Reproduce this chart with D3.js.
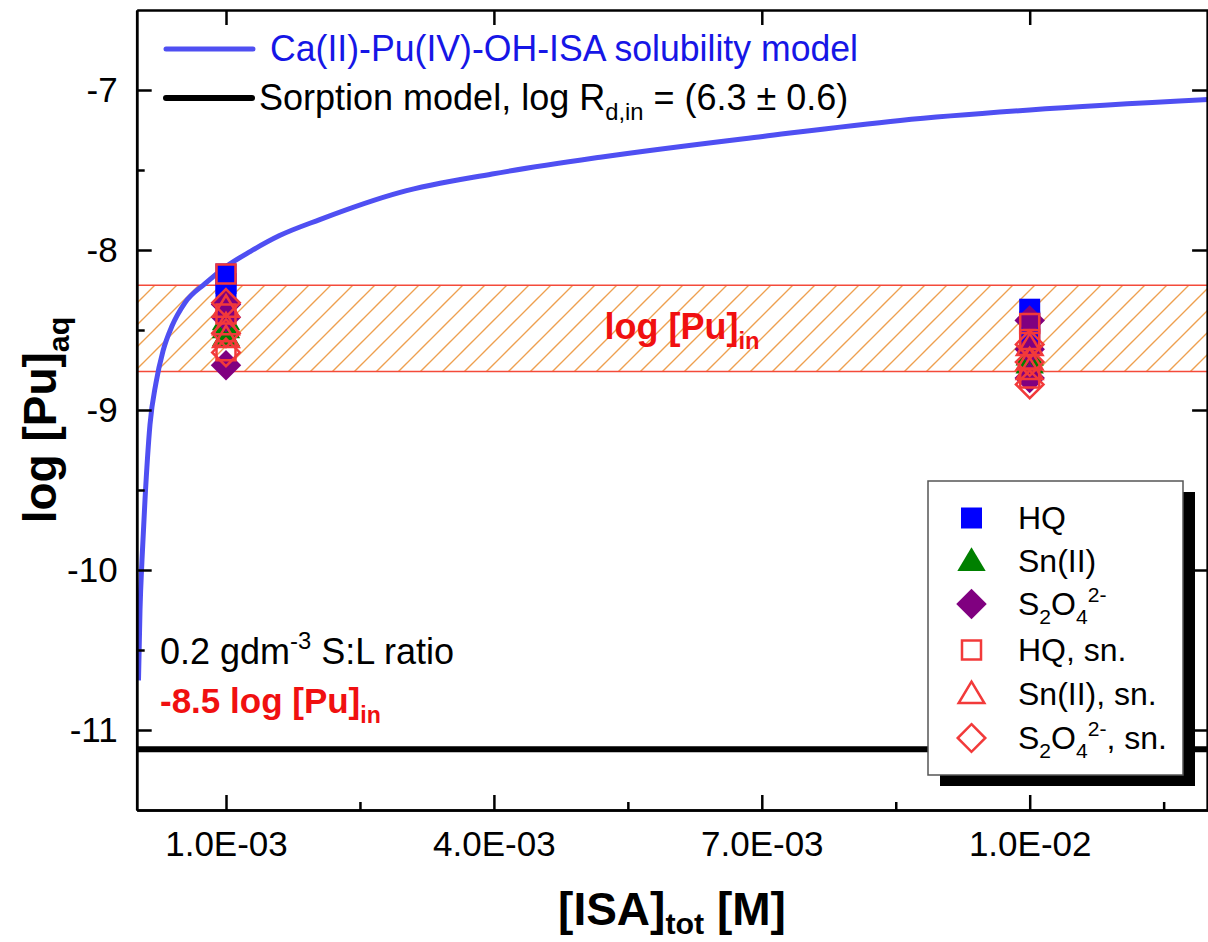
<!DOCTYPE html>
<html>
<head>
<meta charset="utf-8">
<script src="https://cdn.jsdelivr.net/npm/d3@7"></script>
<style>
  html, body { margin: 0; padding: 0; background: #fff; }
  svg { display: block; font-family: "Liberation Sans", Arial, sans-serif; }
</style>
</head>
<body>
<svg id="chart" width="1208" height="942"></svg>
<script>
// ---- data ----
const xMajorTicks = [0.001, 0.004, 0.007, 0.010];
const xTickLabels = ["1.0E-03", "4.0E-03", "7.0E-03", "1.0E-02"];
const xMinorTicks = [0.0025, 0.0055, 0.0085, 0.0115];
const yMajorTicks = [-7, -8, -9, -10, -11];
const yTickLabels = ["-7", "-8", "-9", "-10", "-11"];
const yMinorTicks = [-7.5, -8.5, -9.5, -10.5];

// Ca(II)-Pu(IV)-OH-ISA solubility model
const modelIsa = [2.0e-5, 3.7e-5, 5.9e-5, 9.3e-5, 1.49e-4, 2.16e-4, 2.95e-4, 3.95e-4, 5.4e-4,
  7.65e-4, 1.01e-3, 1.27e-3, 1.6e-3, 2.05e-3, 2.95e-3, 3.98e-3, 5.19e-3, 7.01e-3, 8.55e-3,
  1.0e-2, 1.2e-2];
const modelLogPu = [-10.69, -10.25, -9.94, -9.56, -9.09, -8.83, -8.63, -8.475, -8.33,
  -8.21, -8.10, -8.01, -7.91, -7.81, -7.64, -7.525, -7.42, -7.29, -7.19,
  -7.125, -7.06];

// sorption model and initial Pu band
const sorptionLogPu = -11.12;
const puInBand = [-8.22, -8.76];

// measured points: [ISA]tot and log [Pu]aq
const isaHQ = [0.001, 0.001, 0.001, 0.01, 0.01, 0.01];
const logHQ = [-8.15, -8.21, -8.27, -8.37, -8.45, -8.52];
const isaSn = [0.001, 0.001, 0.001, 0.01, 0.01, 0.01];
const logSn = [-8.44, -8.49, -8.54, -8.66, -8.71, -8.75];
const isaS2O4 = [0.001, 0.001, 0.001, 0.01, 0.01, 0.01];
const logS2O4 = [-8.34, -8.42, -8.72, -8.44, -8.62, -8.80];
const isaHQsn = [0.001, 0.001, 0.001, 0.01, 0.01, 0.01];
const logHQsn = [-8.15, -8.40, -8.63, -8.46, -8.56, -8.80];
const isaSnSn = [0.001, 0.001, 0.001, 0.01, 0.01, 0.01];
const logSnSn = [-8.36, -8.47, -8.55, -8.60, -8.69, -8.75];
const isaS2O4sn = [0.001, 0.001, 0.001, 0.01, 0.01, 0.01];
const logS2O4sn = [-8.33, -8.52, -8.64, -8.59, -8.70, -8.84];

// ---- layout ----
const m = { left: 136.7, right: 1208.3, top: 10, bottom: 810 };
const svg = d3.select("#chart");

const x = d3.scaleLinear().domain([0, 0.012]).range([m.left, m.right]);
const y = d3.scaleLinear().domain([-11.5, -6.5]).range([m.bottom, m.top]);

const BLUE_LINE = "#4f4ff2";
const RED = "#f23a3a";

const defs = svg.append("defs");
defs.append("clipPath").attr("id", "plotClip")
  .append("rect").attr("x", m.left).attr("y", m.top)
  .attr("width", m.right - m.left).attr("height", m.bottom - m.top);

// diagonal hatch for the initial-Pu band
const pat = defs.append("pattern")
  .attr("id", "hatch").attr("patternUnits", "userSpaceOnUse")
  .attr("width", 22).attr("height", 22);
pat.append("path")
  .attr("d", "M-2,2 L2,-2 M0,22 L22,0 M20,24 L24,20")
  .attr("stroke", "#eea050").attr("stroke-width", 1.4).attr("fill", "none");

const plot = svg.append("g").attr("clip-path", "url(#plotClip)");

// band
plot.append("rect")
  .attr("x", m.left).attr("width", m.right - m.left)
  .attr("y", y(puInBand[0])).attr("height", y(puInBand[1]) - y(puInBand[0]))
  .attr("fill", "url(#hatch)");
plot.selectAll("line.band").data(puInBand).join("line")
  .attr("class", "band")
  .attr("x1", m.left).attr("x2", m.right)
  .attr("y1", d => y(d)).attr("y2", d => y(d))
  .attr("stroke", "#f44a3a").attr("stroke-width", 1.5);

// sorption model line
plot.append("line")
  .attr("x1", m.left).attr("x2", m.right)
  .attr("y1", y(sorptionLogPu)).attr("y2", y(sorptionLogPu))
  .attr("stroke", "#000").attr("stroke-width", 6);

// solubility model curve
const model = modelIsa.map((v, i) => [v, modelLogPu[i]]);
plot.append("path")
  .datum(model)
  .attr("fill", "none").attr("stroke", BLUE_LINE).attr("stroke-width", 5)
  .attr("d", d3.line().x(d => x(d[0])).y(d => y(d[1])).curve(d3.curveMonotoneX));

// ---- markers ----
const shapes = {
  square: s => `M${-s},${-s}h${2 * s}v${2 * s}h${-2 * s}Z`,
  triangle: s => `M0,${-s * 1.3}L${s * 1.35},${s * 0.95}L${-s * 1.35},${s * 0.95}Z`,
  diamond: s => `M0,${-s * 1.45}L${s * 1.45},0L0,${s * 1.45}L${-s * 1.45},0Z`
};
const series = [
  { xs: isaHQ, ys: logHQ, shape: "square", fill: "#0000ff", stroke: "none", s: 10.5 },
  { xs: isaSn, ys: logSn, shape: "triangle", fill: "#008000", stroke: "none", s: 10.5 },
  { xs: isaS2O4, ys: logS2O4, shape: "diamond", fill: "#800080", stroke: "none", s: 10.5 },
  { xs: isaHQsn, ys: logHQsn, shape: "square", fill: "none", stroke: RED, s: 9.5 },
  { xs: isaSnSn, ys: logSnSn, shape: "triangle", fill: "none", stroke: RED, s: 9.5 },
  { xs: isaS2O4sn, ys: logS2O4sn, shape: "diamond", fill: "none", stroke: RED, s: 9.5 }
];
series.forEach(sr => {
  plot.append("g").selectAll("path")
    .data(sr.xs.map((v, i) => [v, sr.ys[i]]))
    .join("path")
    .attr("transform", d => `translate(${x(d[0])},${y(d[1])})`)
    .attr("d", shapes[sr.shape](sr.s))
    .attr("fill", sr.fill).attr("stroke", sr.stroke).attr("stroke-width", 2.5);
});

// ---- axes (ticks inward on all four sides) ----
function styleAxis(g) {
  g.select(".domain").attr("stroke", "#000").attr("stroke-width", 2.5);
  g.selectAll(".tick line").attr("stroke", "#000").attr("stroke-width", 2.5);
  g.selectAll("text").attr("fill", "#000").attr("font-size", 35)
    .attr("font-family", "'Liberation Sans', Arial, sans-serif");
}
const bottom = svg.append("g").attr("transform", `translate(0,${m.bottom})`);
bottom.call(d3.axisBottom(x).tickValues(xMinorTicks).tickSize(-8).tickSizeOuter(0).tickFormat(""));
bottom.call(styleAxis);
const bottomMaj = svg.append("g").attr("transform", `translate(0,${m.bottom})`);
bottomMaj.call(d3.axisBottom(x).tickValues(xMajorTicks).tickSize(-15).tickSizeOuter(0)
  .tickPadding(21).tickFormat((d, i) => xTickLabels[i]));
bottomMaj.call(styleAxis);

const topAx = svg.append("g").attr("transform", `translate(0,${m.top})`);
topAx.call(d3.axisTop(x).tickValues(xMinorTicks).tickSize(-8).tickSizeOuter(0).tickFormat(""));
topAx.call(d3.axisTop(x).tickValues(xMajorTicks).tickSize(-15).tickSizeOuter(0).tickFormat(""));
topAx.call(styleAxis);

const leftAx = svg.append("g").attr("transform", `translate(${m.left},0)`);
leftAx.call(d3.axisLeft(y).tickValues(yMinorTicks).tickSize(-8).tickSizeOuter(0).tickFormat(""));
leftAx.call(styleAxis);
const leftMaj = svg.append("g").attr("transform", `translate(${m.left},0)`);
leftMaj.call(d3.axisLeft(y).tickValues(yMajorTicks).tickSize(-15).tickSizeOuter(0)
  .tickPadding(19).tickFormat((d, i) => yTickLabels[i]));
leftMaj.call(styleAxis);

const rightAx = svg.append("g").attr("transform", `translate(${m.right - 1.2},0)`);
rightAx.call(d3.axisRight(y).tickValues(yMinorTicks).tickSize(-8).tickSizeOuter(0).tickFormat(""));
rightAx.call(d3.axisRight(y).tickValues(yMajorTicks).tickSize(-15).tickSizeOuter(0).tickFormat(""));
rightAx.call(styleAxis);

// ---- rich text helper (sub/superscripts) ----
function rich(sel, parts, size, subShift = 0.28) {
  let shift = 0;
  parts.forEach(p => {
    const target = p.sub ? subShift * size : p.sup ? -0.42 * size : 0;
    const t = sel.append("tspan").text(p.t)
      .attr("font-size", (p.sub || p.sup) ? size * 0.66 : size);
    if (target !== shift) t.attr("dy", target - shift);
    shift = target;
  });
}

// ---- axis titles ----
const xt = svg.append("text").attr("x", 672).attr("y", 925)
  .attr("text-anchor", "middle").attr("font-weight", "bold").attr("font-size", 46);
rich(xt, [{ t: "[ISA]" }, { t: "tot", sub: true }, { t: " [M]" }], 46, 0.2);

const yt = svg.append("text").attr("transform", "translate(56,420) rotate(-90)")
  .attr("text-anchor", "middle").attr("font-weight", "bold").attr("font-size", 46);
rich(yt, [{ t: "log [Pu]" }, { t: "aq", sub: true }], 46);

// ---- top-left model legend ----
svg.append("line").attr("x1", 166).attr("x2", 253).attr("y1", 49).attr("y2", 49)
  .attr("stroke", BLUE_LINE).attr("stroke-width", 5).attr("stroke-linecap", "round");
svg.append("text").attr("x", 270).attr("y", 61).attr("font-size", 36)
  .attr("textLength", 588).attr("lengthAdjust", "spacingAndGlyphs")
  .attr("fill", "#1616e6").text("Ca(II)-Pu(IV)-OH-ISA solubility model");
svg.append("line").attr("x1", 166).attr("x2", 252).attr("y1", 98).attr("y2", 98)
  .attr("stroke", "#000").attr("stroke-width", 6).attr("stroke-linecap", "round");
const sorp = svg.append("text").attr("x", 259).attr("y", 110).attr("font-size", 36).attr("fill", "#000");
rich(sorp, [{ t: "Sorption model, log R" }, { t: "d,in", sub: true }, { t: " = (6.3 \u00B1 0.6)" }], 36);

// ---- annotations ----
const band = svg.append("text").attr("x", 682).attr("y", 339).attr("text-anchor", "middle")
  .attr("font-size", 36).attr("font-weight", "bold").attr("fill", "#f01010");
rich(band, [{ t: "log [Pu]" }, { t: "in", sub: true }], 36);

const sl = svg.append("text").attr("x", 160).attr("y", 664).attr("font-size", 36).attr("fill", "#000");
rich(sl, [{ t: "0.2 gdm" }, { t: "-3", sup: true }, { t: " S:L ratio" }], 36);

const pin = svg.append("text").attr("x", 160).attr("y", 713).attr("font-size", 35)
  .attr("font-weight", "bold").attr("fill", "#f01010");
rich(pin, [{ t: "-8.5 log [Pu]" }, { t: "in", sub: true }], 35);

// ---- symbol legend with drop shadow ----
const lg = { x: 928, y: 481, w: 255, h: 294 };
svg.append("rect").attr("x", lg.x + 12).attr("y", lg.y + 11).attr("width", lg.w).attr("height", lg.h)
  .attr("fill", "#000");
svg.append("rect").attr("x", lg.x).attr("y", lg.y).attr("width", lg.w).attr("height", lg.h)
  .attr("fill", "#fff").attr("stroke", "#555").attr("stroke-width", 1.5);

const legendLabels = [
  [{ t: "HQ" }],
  [{ t: "Sn(II)" }],
  [{ t: "S" }, { t: "2", sub: true }, { t: "O" }, { t: "4", sub: true }, { t: "2-", sup: true }],
  [{ t: "HQ, sn." }],
  [{ t: "Sn(II), sn." }],
  [{ t: "S" }, { t: "2", sub: true }, { t: "O" }, { t: "4", sub: true }, { t: "2-", sup: true }, { t: ", sn." }]
];
const legendRows = [518, 561, 604, 650, 694, 738];
series.forEach((sr, i) => {
  const cy = legendRows[i];
  svg.append("path").attr("transform", `translate(971.5,${cy})`)
    .attr("d", shapes[sr.shape](sr.s))
    .attr("fill", sr.fill).attr("stroke", sr.stroke).attr("stroke-width", 2.5);
  const t = svg.append("text").attr("x", 1018).attr("y", cy + 11).attr("font-size", 32).attr("fill", "#000");
  rich(t, legendLabels[i], 32);
});
</script>
</body>
</html>
